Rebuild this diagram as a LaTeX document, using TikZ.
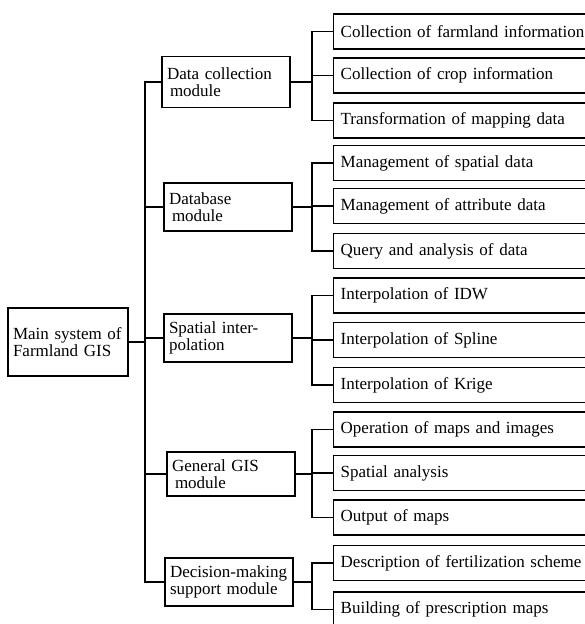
\documentclass[tikz,border=0pt]{standalone}
\usepackage{fontspec}
\setmainfont{Liberation Serif}
\tikzset{
    box/.style={draw, line width=1.4pt, inner ysep=2pt, align=left,
        font=\fontsize{17}{17}\selectfont},
    mainbox/.style={box, inner xsep=5pt, text width=110pt, minimum height=68pt},
    modbox/.style={box, inner xsep=5pt, text width=118pt, minimum height=48pt},
    leafbox/.style={box, anchor=west, inner xsep=7pt, text width=255pt, minimum height=35pt},
    wire/.style={line width=1.1pt}
}
\begin{document}
\begin{tikzpicture}[x=1pt, y=1pt]
        \useasboundingbox (0,0) rectangle (584,-624);
        % root and modules
        \node[mainbox] (main) at (68,-342) {Main system of\\Farmland GIS};
        \node[modbox, minimum height=51pt] (dc) at (226,-82) {Data collection\\\hspace{3pt}module};
        \node[modbox] (db) at (228,-207) {Database\\\hspace{3pt}module};
        \node[modbox] (si) at (228,-338) {Spatial inter-\\polation};
        \node[modbox, minimum height=44pt] (gg) at (231,-474) {General GIS\\\hspace{3pt}module};
        \node[modbox] (dm) at (229,-582) {Decision-making\\support module};
        % leaves
        \foreach \n/\y/\t in {
            l1/31.5/Collection of farmland information,
            l2/75.5/Collection of crop information,
            l3/120.5/Transformation of mapping data,
            l4/163/Management of spatial data,
            l5/206/Management of attribute data,
            l6/251/Query and analysis of data,
            l7/295.5/Interpolation of IDW,
            l8/340/Interpolation of Spline,
            l9/385/Interpolation of Krige,
            l10/429.5/Operation of maps and images,
            l11/473/Spatial analysis,
            l12/517.5/Output of maps,
            l13/563/Description of fertilization scheme,
            l14/609.5/Building of prescription maps}
        \node[leafbox] (\n) at (333,-\y) {\t};
        % connectors
        \coordinate (trunk) at (145,-342);
        \coordinate (bus) at (312,0);
        \draw[wire] (main.east) -- (trunk);
        \foreach \m in {dc,db,si,gg,dm}
        \draw[wire] (trunk) |- (\m.west);
        \foreach \m/\l in {dc/l1,dc/l2,dc/l3,db/l4,db/l5,db/l6,si/l7,si/l8,si/l9,
            gg/l10,gg/l11,gg/l12,dm/l13,dm/l14}
        \draw[wire] (\m.east) -- (\m.east -| bus) |- (\l.west);
    \end{tikzpicture}
\end{document}
